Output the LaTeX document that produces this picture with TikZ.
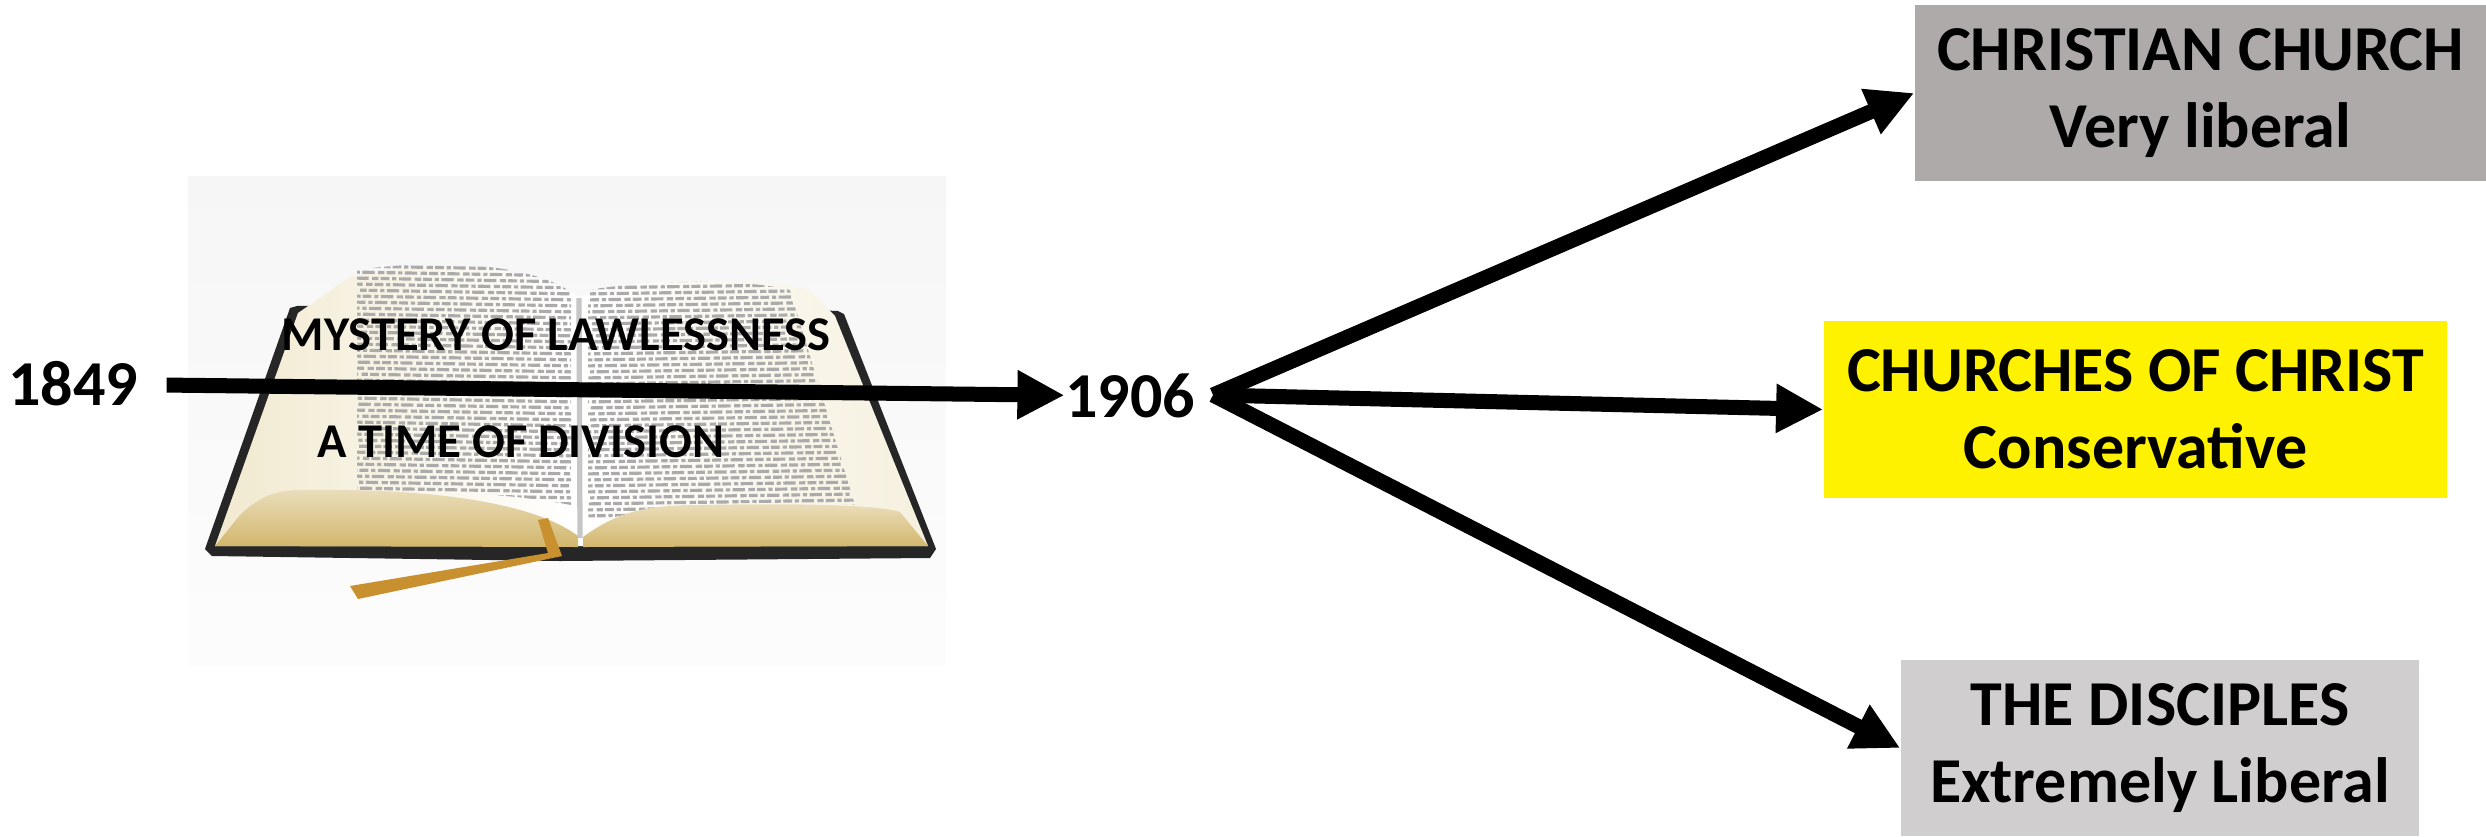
\documentclass[tikz,border=0pt]{standalone}
\usepackage{fontspec}
\setmainfont{Carlito}
\usetikzlibrary{positioning,arrows.meta}

\definecolor{chgray}{HTML}{AEAAAA}
\definecolor{discgray}{HTML}{D0CECE}
\definecolor{gilt}{HTML}{D2B66C}
\definecolor{pagecream}{HTML}{F1E9CF}
\definecolor{ribbon}{HTML}{C8902E}
\definecolor{inkgray}{HTML}{ABABAB}

\tikzset{
  era/.style={font=\fontsize{18.2}{21.9}\selectfont\bfseries, inner sep=0pt},
  church/.style={font=\fontsize{18.2}{21.9}\selectfont\bfseries, align=center, inner sep=0pt, minimum height=1.76cm},
  booklabel/.style={font=\fontsize{13.8}{16}\selectfont\bfseries, inner sep=0pt, anchor=base},
  split/.style={line width=0.15cm, -{Triangle[length=0.47cm,width=0.46cm]}},
  printrow/.style={inkgray, line width=0.9pt, dash pattern=on 2.5pt off 0.8pt on 1.2pt off 0.7pt on 3.5pt off 1pt on 1.8pt off 0.6pt},
}

\begin{document}
\begin{tikzpicture}[x=0.01cm,y=-0.01cm]
  \useasboundingbox (0,0) rectangle (2486,836);

  % the open book
  \shade[top color=gray!7, bottom color=gray!2] (188,176) rectangle (946,665);
  \fill[black!85] (290,308) -- (297,306) -- (578,300) -- (838,311) -- (844,314) -- (936,549) -- (930,558) -- (560,561) -- (212,556) -- (205,549) -- cycle;
  \shade[left color=pagecream, right color=white] (298,313) -- (350,277) .. controls (430,260) and (530,264) .. (579,297) -- (579,546) -- (215,546) -- cycle;
  \shade[left color=white, middle color=white, right color=pagecream!70] (579,297) .. controls (620,278) and (750,275) .. (810,290) -- (835,316) -- (928,546) -- (579,546) -- cycle;
  \begin{scope}
    \clip (357,270) .. controls (440,258) and (530,264) .. (571,292) -- (571,505) .. controls (520,495) and (430,488) .. (357,492) -- cycle;
    \foreach \r in {0,...,40}
      \draw[printrow, dash phase=1.7*\r pt] (350,266+6*\r) -- (580,270+6*\r);
  \end{scope}
  \begin{scope}
    \clip (588,290) .. controls (650,280) and (740,278) .. (790,290) -- (855,505) .. controls (760,500) and (650,502) .. (588,525) -- cycle;
    \foreach \r in {0,...,40}
      \draw[printrow, dash phase=2.3*\r pt] (580,276+6*\r) -- (860,272+6*\r);
  \end{scope}
  \draw[gray!45, line width=1.5pt] (579,298) -- (580,538);
  \shade[top color=gilt!45, bottom color=gilt] (215,546) -- (240,515) .. controls (260,495) and (280,490) .. (300,490) .. controls (420,488) and (530,500) .. (578,536) -- (578,547) -- cycle;
  \shade[top color=gilt!45, bottom color=gilt] (583,537) .. controls (620,510) and (650,505) .. (700,505) .. controls (800,503) and (880,505) .. (900,512) -- (928,546) -- (583,547) -- cycle;
  \fill[ribbon] (538,520) -- (548,518) -- (562,556) -- (358,599) -- (350,586) -- (548,553) -- cycle;

  \node[booklabel] (mystery) at (556,350) {MYSTERY OF LAWLESSNESS};
  \node[booklabel] (division) at (521,457) {A TIME OF DIVISION};

  % years
  \node[era] (y1849) at (73,384) {1849};
  \node[era] (y1906) at (1130,396) {1906};
  \coordinate (fork) at (1213,395);

  % the three churches
  \node[church, fill=chgray, minimum width=5.71cm] (cc) at (2200.5,93) {CHRISTIAN CHURCH\\Very liberal};
  \node[church, fill=yellow, minimum width=6.23cm] (coc) at (2135.5,409.5) {CHURCHES OF CHRIST\\Conservative};
  \node[church, fill=discgray, minimum width=5.18cm] (disc) at (2160,748) {THE DISCIPLES\\Extremely Liberal};

  \draw[split, shorten <=0.28cm] (y1849) -- (y1906);
  \draw[split] (fork) -- (cc.west);
  \draw[split] (fork) -- (coc.west);
  \draw[split] (fork) -- (disc.west);
\end{tikzpicture}
\end{document}
